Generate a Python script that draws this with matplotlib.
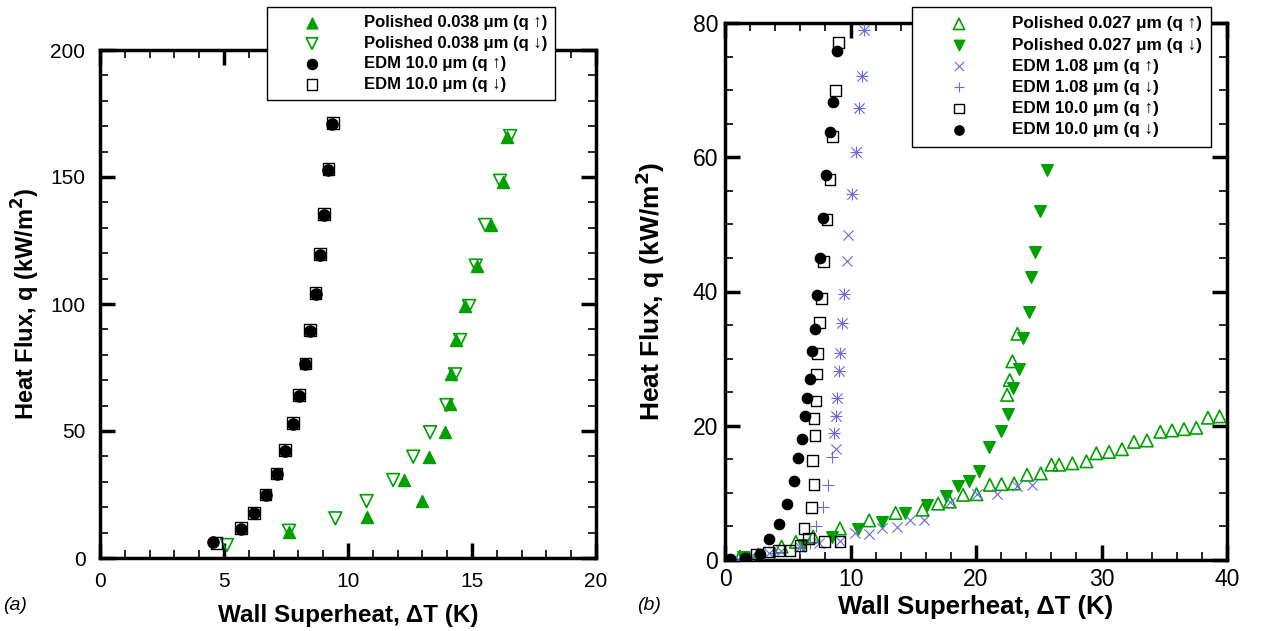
import matplotlib
matplotlib.use("Agg")
import matplotlib.pyplot as plt
from matplotlib.ticker import MultipleLocator

plt.rcParams['font.family'] = ['Liberation Sans', 'DejaVu Sans']

GREEN = '#00a000'
BLUE = '#6a6ad8'

# ---- panel (a) data ----
edm_a_up_x = [4.55, 5.70, 6.22, 6.69, 7.14, 7.47, 7.77, 8.04, 8.28, 8.48, 8.69, 8.86, 9.02, 9.20, 9.37]
edm_a_up_y = [6.4, 11.4, 17.6, 24.8, 32.9, 42.2, 52.8, 63.8, 76.4, 89.4, 103.9, 119.3, 135.0, 152.8, 170.7]
edm_a_dn_x = [4.70, 5.68, 6.20, 6.67, 7.12, 7.47, 7.77, 8.03, 8.28, 8.48, 8.69, 8.88, 9.03, 9.22, 9.40]
edm_a_dn_y = [6.0, 11.8, 17.8, 25.0, 33.2, 42.6, 53.2, 64.2, 76.6, 89.8, 104.4, 119.6, 135.4, 153.2, 171.2]

pol_a_up_x = [7.62, 10.77, 12.97, 12.26, 13.27, 13.91, 14.10, 14.17, 14.37, 14.72, 15.22, 15.76, 16.23, 16.43]
pol_a_up_y = [10.1, 16.0, 22.6, 30.7, 39.6, 49.7, 60.6, 72.3, 85.8, 99.2, 115.1, 131.1, 147.9, 165.6]
pol_a_dn_x = [5.12, 7.62, 9.49, 10.75, 11.82, 12.63, 13.31, 13.97, 14.32, 14.52, 14.88, 15.15, 15.53, 16.13, 16.54]
pol_a_dn_y = [5.1, 10.7, 15.6, 22.4, 30.7, 39.9, 49.5, 60.2, 72.3, 85.8, 99.2, 115.1, 131.1, 148.5, 166.1]

# ---- panel (b) data ----
pol_b_up_x = [1.19, 2.65, 4.51, 5.65, 7.03, 9.16, 11.49, 13.59, 15.74, 16.98, 17.91, 18.97, 20.04, 21.10,
              22.03, 23.04, 24.07, 25.16, 26.01, 26.62, 27.68, 28.80, 29.59, 30.60, 31.63, 32.59, 33.62,
              34.69, 35.62, 36.57, 37.55, 38.48, 39.41, 22.48, 22.69, 22.90, 23.30]
pol_b_up_y = [0.5, 0.8, 2.0, 2.7, 3.5, 4.7, 5.9, 7.0, 7.5, 8.4, 8.7, 9.7, 9.8, 11.2,
              11.3, 11.4, 12.7, 12.9, 14.2, 14.2, 14.4, 14.7, 15.9, 16.1, 16.5, 17.6, 17.8,
              19.1, 19.3, 19.5, 19.7, 21.2, 21.4, 24.6, 26.8, 29.6, 33.7]
pol_b_dn_x = [1.46, 6.24, 8.50, 10.57, 12.52, 14.33, 16.06, 17.60, 18.58, 19.45, 20.25, 21.04, 22.03,
              22.51, 22.96, 23.41, 23.75, 24.20, 24.42, 24.73, 25.13, 25.66]
pol_b_dn_y = [0.5, 2.2, 3.5, 4.6, 5.7, 7.0, 8.2, 9.5, 11.0, 11.7, 13.3, 16.8, 19.2,
              21.8, 25.6, 28.4, 33.0, 36.9, 42.1, 45.9, 52.0, 58.1]

edm1_up_x = [1.0, 2.0, 3.5, 4.5, 6.0, 7.5, 9.16, 10.35, 11.49, 12.52, 13.67, 14.73, 15.87, 17.91, 20.04,
             21.68, 23.27, 24.50, 8.81, 8.70, 8.84, 8.94, 9.08, 9.16, 9.34, 9.50, 9.69, 9.82, 10.14,
             10.40, 10.67, 10.88, 11.09]
edm1_up_y = [0.2, 0.5, 1.0, 1.4, 2.0, 2.6, 2.9, 4.0, 3.9, 4.7, 4.9, 5.9, 5.9, 8.7, 9.8,
             9.9, 11.0, 11.2, 16.6, 18.9, 21.5, 24.1, 28.1, 30.8, 35.3, 39.6, 44.6, 48.4, 54.5,
             60.8, 67.4, 72.1, 79.0]
edm1_dn_x = [2.0, 4.0, 6.0, 6.77, 7.25, 7.83, 8.17, 8.55, 8.70, 8.84, 8.94, 9.08, 9.16, 9.34, 9.50,
             10.14, 10.40, 10.67, 10.88, 11.09]
edm1_dn_y = [0.4, 1.0, 1.8, 2.5, 5.1, 7.9, 11.1, 15.3, 18.9, 21.5, 24.1, 28.1, 30.8, 35.3, 39.6,
             54.5, 60.8, 67.4, 72.1, 79.0]

edm10_up_x = [2.52, 3.45, 4.24, 5.18, 6.03, 6.29, 6.63, 7.91, 9.16, 6.90, 7.09, 6.95, 7.17, 7.09, 7.25,
              7.30, 7.38, 7.56, 7.70, 7.83, 8.12, 8.36, 8.57, 8.81, 9.02]
edm10_up_y = [0.9, 1.2, 1.4, 1.4, 2.2, 4.7, 3.2, 2.7, 2.7, 7.8, 11.2, 14.8, 18.6, 21.1, 23.7,
              27.7, 30.8, 35.4, 39.0, 44.5, 50.7, 56.7, 63.1, 69.9, 77.1]
edm10_dn_x = [0.40, 1.59, 2.79, 3.53, 4.30, 4.96, 5.49, 5.81, 6.13, 6.34, 6.55, 6.74, 6.93, 7.14, 7.32,
              7.54, 7.80, 8.04, 8.39, 8.60, 8.94]
edm10_dn_y = [0.1, 0.25, 0.9, 3.1, 5.3, 8.3, 11.8, 15.2, 18.0, 21.5, 24.2, 26.9, 31.2, 34.4, 39.5,
              45.0, 50.9, 57.3, 63.7, 68.3, 75.8]

UP = '\u2191'
DN = '\u2193'
MU = '\u03bc'

W, H = 1270, 631
fig = plt.figure(figsize=(W / 100, H / 100), dpi=100)


def style_axes(ax, xmaj, xmin, ymaj, ymin, size, xpad, ypad):
    for s in ax.spines.values():
        s.set_linewidth(2.5)
    ax.xaxis.set_major_locator(MultipleLocator(xmaj))
    ax.xaxis.set_minor_locator(MultipleLocator(xmin))
    ax.yaxis.set_major_locator(MultipleLocator(ymaj))
    ax.yaxis.set_minor_locator(MultipleLocator(ymin))
    ax.tick_params(which='both', direction='in', top=True, right=True, labelsize=size)
    ax.tick_params(axis='x', pad=xpad)
    ax.tick_params(axis='y', pad=ypad)
    ax.tick_params(which='major', length=11, width=2.5)
    ax.tick_params(which='minor', length=6, width=1.2)


def leg_kw(fs, spacing, bpad):
    return dict(loc='upper left', prop=dict(size=fs, weight='bold'),
                frameon=True, fancybox=False, edgecolor='black', framealpha=1,
                handlelength=4.4, handletextpad=0.9, labelspacing=spacing, borderpad=bpad,
                borderaxespad=0, scatterpoints=1, markerscale=0.9)


# ---------------- panel (a) ----------------
ax1 = fig.add_axes([100 / W, 1 - 558 / H, 496 / W, 508 / H])
h1 = ax1.scatter(pol_a_up_x, pol_a_up_y, marker='^', s=75, color=GREEN, zorder=3)
h2 = ax1.scatter(pol_a_dn_x, pol_a_dn_y, marker='v', s=85, facecolors='none', edgecolors=GREEN,
                 linewidths=1.2, zorder=3)
h4 = ax1.scatter(edm_a_dn_x, edm_a_dn_y, marker='s', s=70, facecolors='none', edgecolors='black',
                 linewidths=1.0, zorder=3)
h3 = ax1.scatter(edm_a_up_x, edm_a_up_y, marker='o', s=65, color='black', zorder=4)
ax1.set_xlim(0, 20)
ax1.set_ylim(0, 200)
style_axes(ax1, 5, 1, 50, 10, 15, 10, 10.5)
ax1.set_xlabel('Wall Superheat, \u0394T (K)', fontsize=17.5, fontweight='bold')
ax1.set_ylabel('Heat Flux, q (kW/m$^\\mathbf{2}$)', fontsize=17, fontweight='bold')
ax1.xaxis.set_label_coords(0.5, -0.09)
ax1.yaxis.set_label_coords(-0.117, 0.5)

fig.legend([h1, h2, h3, h4],
           ['Polished 0.038 %sm (q %s)' % (MU, UP), 'Polished 0.038 %sm (q %s)' % (MU, DN),
            'EDM 10.0 %sm (q %s)' % (MU, UP), 'EDM 10.0 %sm (q %s)' % (MU, DN)],
           bbox_to_anchor=(267 / W, 1 - 7 / H), **leg_kw(12, 0.335, 0.5))

fig.text(3 / W, 1 - 606 / H, '(a)', fontsize=14, style='italic', va='center')

# ---------------- panel (b) ----------------
ax2 = fig.add_axes([725 / W, 1 - 560 / H, 502 / W, 537 / H])
g1 = ax2.scatter(pol_b_up_x, pol_b_up_y, marker='^', s=80, facecolors='none', edgecolors=GREEN,
                 linewidths=1.2, zorder=3)
g2 = ax2.scatter(pol_b_dn_x, pol_b_dn_y, marker='v', s=70, color=GREEN, zorder=3)
g3 = ax2.scatter(edm1_up_x, edm1_up_y, marker='x', s=55, color=BLUE, linewidths=0.8, zorder=3)
g4 = ax2.scatter(edm1_dn_x, edm1_dn_y, marker='+', s=75, color=BLUE, linewidths=0.8, zorder=3)
g5 = ax2.scatter(edm10_up_x, edm10_up_y, marker='s', s=60, facecolors='none', edgecolors='black',
                 linewidths=1.0, zorder=3)
g6 = ax2.scatter(edm10_dn_x, edm10_dn_y, marker='o', s=55, color='black', zorder=4)
ax2.set_xlim(0, 40)
ax2.set_ylim(0, 80)
style_axes(ax2, 10, 2, 20, 5, 16.5, 6, 5)
ax2.set_xlabel('Wall Superheat, \u0394T (K)', fontsize=18.5, fontweight='bold')
ax2.set_ylabel('Heat Flux, q (kW/m$^\\mathbf{2}$)', fontsize=19, fontweight='bold')
ax2.xaxis.set_label_coords(0.5, -0.065)
ax2.yaxis.set_label_coords(-0.1155, 0.5)

fig.legend([g1, g2, g3, g4, g5, g6],
           ['Polished 0.027 %sm (q %s)' % (MU, UP), 'Polished 0.027 %sm (q %s)' % (MU, DN),
            'EDM 1.08 %sm (q %s)' % (MU, UP), 'EDM 1.08 %sm (q %s)' % (MU, DN),
            'EDM 10.0 %sm (q %s)' % (MU, UP), 'EDM 10.0 %sm (q %s)' % (MU, DN)],
           bbox_to_anchor=(912 / W, 1 - 7 / H), **leg_kw(12.3, 0.36, 0.55))

fig.text(637 / W, 1 - 606 / H, '(b)', fontsize=14, style='italic', va='center')

fig.savefig('out.png', dpi=100)
